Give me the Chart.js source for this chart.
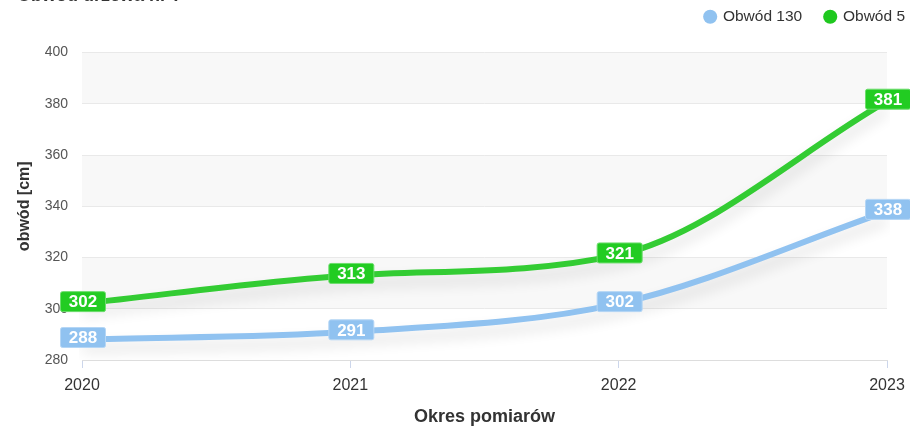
<!DOCTYPE html>
<html>
<head>
<meta charset="utf-8">
<script src="https://cdn.jsdelivr.net/npm/chart.js@4/dist/chart.umd.min.js"></script>
<style>
  html, body { margin: 0; padding: 0; background: #fff; }
  #wrap { width: 910px; height: 433px; }
</style>
</head>
<body>
<div id="wrap"><canvas id="treeChart"></canvas></div>
<script>
const years = ['2020', '2021', '2022', '2023'];
const obwod130 = [288, 291, 302, 338];
const obwod5 = [302, 313, 321, 381];
const yTicks = [280, 300, 320, 340, 360, 380, 400];

const FONT = '"Liberation Sans", Arial, sans-serif';

// alternating bands behind the plot
const bandsPlugin = {
    id: 'bands',
    beforeDraw(chart) {
        const ctx = chart.ctx;
        const area = chart.chartArea;
        const y = chart.scales.y;
        ctx.save();
        ctx.fillStyle = '#f8f8f8';
        for (let i = yTicks.length - 1; i > 0; i -= 2) {
            const top = y.getPixelForValue(yTicks[i]);
            const bottom = y.getPixelForValue(yTicks[i - 1]);
            ctx.fillRect(area.left, top, area.right - area.left, bottom - top);
        }
        // title, cut off by the top edge
        ctx.fillStyle = '#333';
        ctx.font = 'bold 18px ' + FONT;
        ctx.textAlign = 'left';
        ctx.textBaseline = 'alphabetic';
        ctx.fillText('Obwód drzewa nr 7', 17, 1);
        ctx.restore();
    }
};

// move the legend to the top right corner
const legendShift = {
    id: 'legendShift',
    afterLayout(chart) {
        const lg = chart.legend;
        lg.left += 41; lg.right += 41;
        lg.top -= 18; lg.bottom -= 18;
    }
};

// soft shadow under the lines
const shadowPlugin = {
    id: 'lineShadow',
    beforeDatasetDraw(chart) {
        const ctx = chart.ctx;
        ctx.save();
        ctx.shadowColor = 'rgba(0,0,0,0.14)';
        ctx.shadowBlur = 14;
        ctx.shadowOffsetY = 9;
    },
    afterDatasetDraw(chart) {
        chart.ctx.restore();
    }
};

// boxed value labels on each point
const labelPlugin = {
    id: 'boxLabels',
    afterDatasetsDraw(chart) {
        const ctx = chart.ctx;
        ctx.save();
        ctx.font = 'bold 17px ' + FONT;
        ctx.textAlign = 'center';
        ctx.textBaseline = 'middle';
        chart.data.datasets.forEach((ds, i) => {
            const meta = chart.getDatasetMeta(i);
            meta.data.forEach((pt, j) => {
                const txt = String(ds.data[j]);
                const w = 45;
                const h = 20;
                const cx = pt.x + 1;
                const cy = pt.y - 2;
                ctx.beginPath();
                ctx.roundRect(cx - w / 2, cy - h / 2, w, h, 2);
                ctx.fillStyle = ds.labelFill;
                ctx.fill();
                ctx.lineWidth = 1;
                ctx.strokeStyle = ds.labelBorder;
                ctx.stroke();
                ctx.fillStyle = '#ffffff';
                ctx.fillText(txt, cx, cy + 1);
            });
        });
        ctx.restore();
    }
};

const ctx = document.getElementById('treeChart').getContext('2d');
new Chart(ctx, {
    type: 'line',
    data: {
        labels: years,
        datasets: [
            {
                label: 'Obwód 130',
                data: obwod130,
                borderColor: '#90c2f0',
                backgroundColor: '#90c2f0',
                labelFill: '#90c2f0',
                labelBorder: '#b5d6f5',
                borderWidth: 6,
                cubicInterpolationMode: 'monotone',
                pointRadius: 0,
                fill: false
            },
            {
                label: 'Obwód 5',
                data: obwod5,
                borderColor: '#33cc33',
                backgroundColor: '#1fc81f',
                labelFill: '#22cc22',
                labelBorder: '#6ddd6d',
                borderWidth: 6,
                cubicInterpolationMode: 'monotone',
                pointRadius: 0,
                fill: false
            }
        ]
    },
    options: {
        responsive: true,
        maintainAspectRatio: false,
        animation: false,
        layout: { padding: { top: 4, right: 23, left: 0, bottom: 0 } },
        plugins: {
            legend: {
                align: 'end',
                labels: {
                    usePointStyle: true,
                    pointStyle: 'circle',
                    boxWidth: 10,
                    boxHeight: 10,
                    color: '#333',
                    font: { family: FONT, size: 15.5 },
                    padding: 23,
                    generateLabels(chart) {
                        const items = Chart.defaults.plugins.legend.labels.generateLabels(chart);
                        items.forEach(it => { it.lineWidth = 0; it.strokeStyle = 'transparent'; });
                        return items;
                    }
                }
            },
            tooltip: { enabled: false }
        },
        scales: {
            x: {
                offset: false,
                grid: {
                    drawOnChartArea: false,
                    color: '#ccd6eb',
                    tickLength: 8
                },
                border: { color: '#dddddd' },
                ticks: {
                    color: '#333',
                    font: { family: FONT, size: 16 },
                    padding: 8,
                    maxRotation: 0
                },
                title: {
                    display: true,
                    text: 'Okres pomiarów',
                    color: '#333',
                    font: { family: FONT, size: 18, weight: 'bold' },
                    padding: { top: 10, bottom: 5 }
                },
                afterFit(scale) {
                    scale.height = 73;
                    scale.paddingLeft = 0;
                    scale.paddingRight = 0;
                }
            },
            y: {
                min: 280,
                max: 400,
                grid: { color: '#e9e9e9', drawTicks: false },
                border: { display: false },
                ticks: {
                    stepSize: 20,
                    color: '#555',
                    font: { family: FONT, size: 14 },
                    padding: 14
                },
                title: {
                    display: true,
                    text: 'obwód [cm]',
                    color: '#333',
                    font: { family: FONT, size: 16, weight: 'bold' },
                    padding: { top: 15, bottom: 4 }
                },
                afterFit(scale) { scale.width = 82; }
            }
        }
    },
    plugins: [bandsPlugin, legendShift, shadowPlugin, labelPlugin]
});
</script>
</body>
</html>
